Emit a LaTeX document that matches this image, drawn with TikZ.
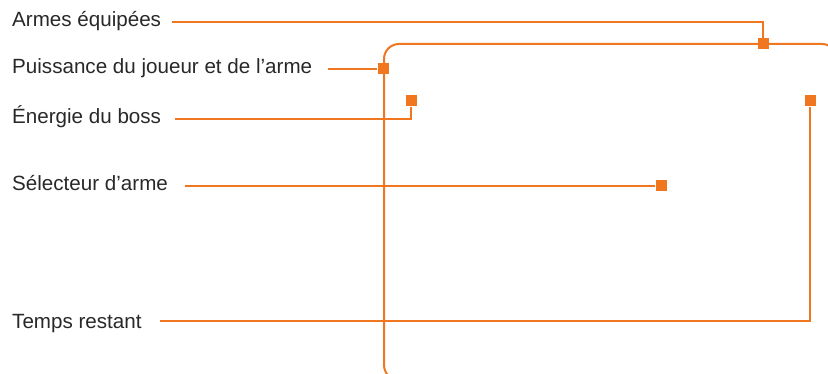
\documentclass[tikz,border=0pt]{standalone}
\usepackage{fontspec}
\setmainfont{Liberation Sans}
\definecolor{org}{RGB}{240,118,32}
\definecolor{txt}{RGB}{40,40,40}
\begin{document}
\begin{tikzpicture}[x=1pt,y=-1pt,
 lbl/.style={anchor=base west, inner sep=0pt, font=\fontsize{20.6}{24}\selectfont, text=txt},
 mk/.style={fill=org, minimum size=11pt, inner sep=0pt, draw=none},
 ln/.style={draw=org, line width=2pt}]
\useasboundingbox (0,0) rectangle (828,374);
\begin{scope}
\clip (0,0) rectangle (828,374);
\draw[ln, rounded corners=15pt] (384,44) rectangle (837,380);
\end{scope}
% labels
\node[lbl] (t1) at (12,27) {Armes équipées};
\node[lbl] (t2) at (12,74) {Puissance du joueur et de l’arme};
\node[lbl] (t3) at (12,124) {Énergie du boss};
\node[lbl] (t4) at (12,191) {Sélecteur d’arme};
\node[lbl] (t5) at (12,329) {Temps restant};
% start points
\coordinate (s1) at (172,22);
\coordinate (s2) at (328,69);
\coordinate (s3) at (175,119);
\coordinate (s4) at (185,186);
\coordinate (s5) at (160,321);
% markers
\node[mk] (m1) at (763,44) {};
\node[mk] (m2) at (383,69) {};
\node[mk] (m3) at (411,101) {};
\node[mk] (m4) at (810,101) {};
\node[mk] (m5) at (661,186) {};
% connectors
\draw[ln] (s1) -| (m1);
\draw[ln] (s2) -- (m2);
\draw[ln] (s3) -| (m3);
\draw[ln] (s4) -- (m5);
\draw[ln] (s5) -| (m4);
\end{tikzpicture}
\end{document}
